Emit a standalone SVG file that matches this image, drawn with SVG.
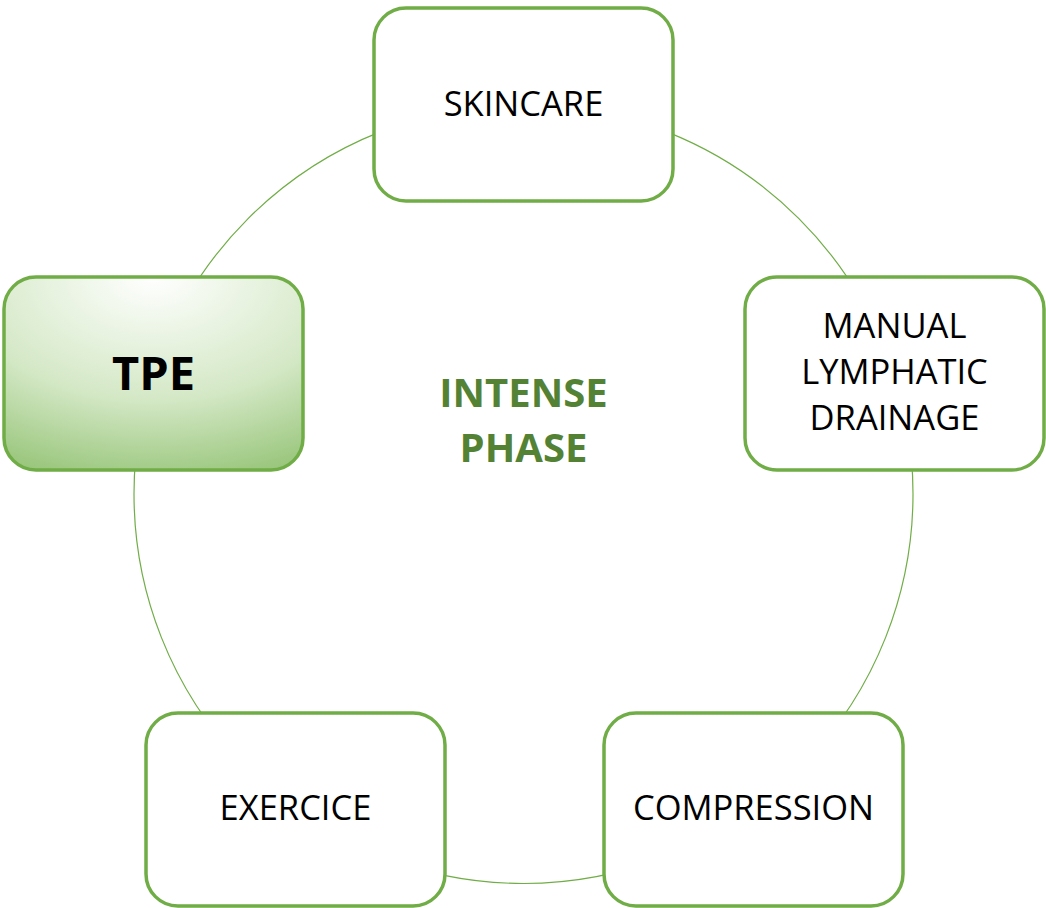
<svg xmlns="http://www.w3.org/2000/svg" width="1046" height="908" viewBox="0 0 1046 908">
<style>
.box{fill:#fff;stroke:#70AD47;stroke-width:3.5}
.lbl{font-family:"Open Sans","Liberation Sans",sans-serif;font-size:34.5px;fill:#000;text-anchor:middle}
.ring{fill:none;stroke:#70AD47;stroke-width:1.2}
</style>
<defs>
<radialGradient id="g" cx="0.5" cy="0" r="1.15" fx="0.5" fy="0">
<stop offset="0" stop-color="#ffffff"/>
<stop offset="0.55" stop-color="#d4e8c6"/>
<stop offset="1" stop-color="#8fc06f"/>
</radialGradient>
</defs>
<rect width="1046" height="908" fill="#fff"/>
<g id="connectors">
<circle class="ring" cx="523.5" cy="494" r="389.5"/>
</g>
<g id="center">
<text x="523.5" y="407" font-family="Open Sans, Liberation Sans, sans-serif" font-weight="bold" font-size="40" fill="#548235" text-anchor="middle"><tspan x="523.5" y="407">INTENSE</tspan><tspan x="523.5" y="462">PHASE</tspan></text>
</g>
<g id="skincare">
<rect class="box" x="374" y="8" width="299" height="193" rx="32"/>
<text class="lbl" x="523.5" y="116">SKINCARE</text>
</g>
<g id="tpe">
<rect x="4" y="277" width="299" height="193" rx="32" fill="url(#g)" stroke="#70AD47" stroke-width="3.5"/>
<text x="153.5" y="390" font-family="Open Sans, Liberation Sans, sans-serif" font-weight="bold" font-size="47" fill="#000" text-anchor="middle">TPE</text>
</g>
<g id="mld">
<rect class="box" x="745" y="277" width="299" height="193" rx="32"/>
<text class="lbl" x="894.5" y="338"><tspan x="894.5" y="338">MANUAL</tspan><tspan x="894.5" y="384">LYMPHATIC</tspan><tspan x="894.5" y="430">DRAINAGE</tspan></text>
</g>
<g id="compression">
<rect class="box" x="604" y="713" width="299" height="193" rx="32"/>
<text class="lbl" x="753.5" y="820">COMPRESSION</text>
</g>
<g id="exercice">
<rect class="box" x="146" y="713" width="299" height="193" rx="32"/>
<text class="lbl" x="295.5" y="820">EXERCICE</text>
</g>
</svg>
